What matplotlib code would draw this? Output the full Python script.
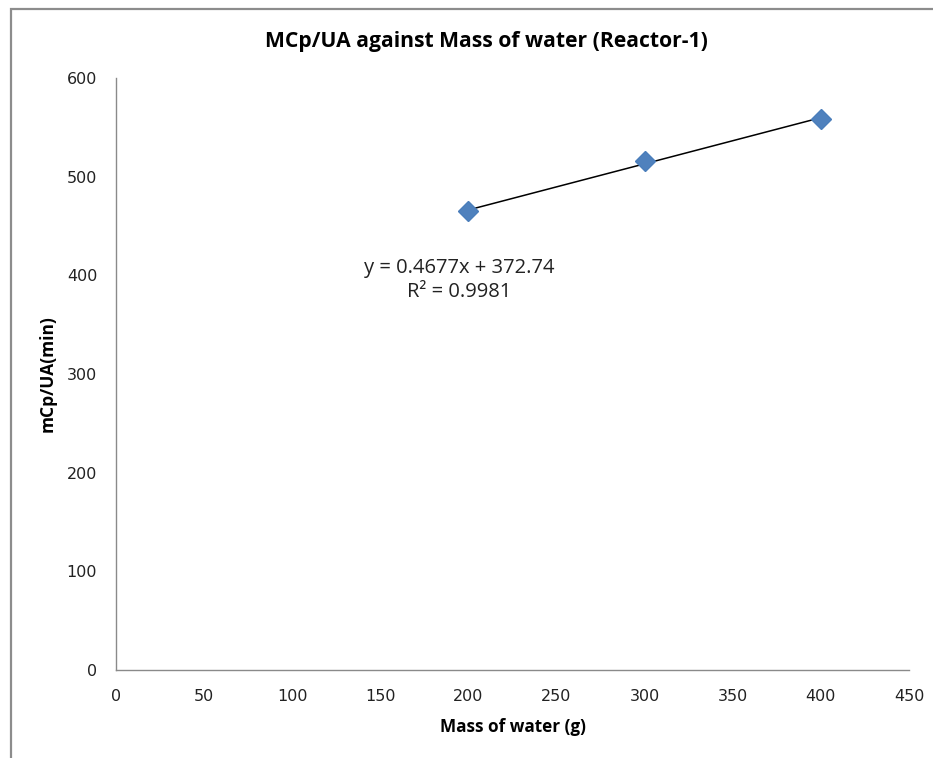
import matplotlib.pyplot as plt
import matplotlib.patches as mpatches
import numpy as np

# measurements
mass_water = [200, 300, 400]
mcp_ua = [465.1, 515.4, 558.6]

# linear trendline
slope = 0.4677
intercept = 372.74
r_squared = 0.9981

x_ticks = [0, 50, 100, 150, 200, 250, 300, 350, 400, 450]
y_ticks = [0, 100, 200, 300, 400, 500, 600]

W, H = 933, 758
fig = plt.figure(figsize=(W / 100, H / 100), dpi=100)
ax = fig.add_axes([116 / W, 1 - 670 / H, (909 - 116) / W, (670 - 78) / H])

# chart frame
fig.add_artist(mpatches.Rectangle((11 / W, -0.1), 1.2, 1 - 9 / H + 0.1,
                                  transform=fig.transFigure, fill=False,
                                  edgecolor='#8c8c8c', linewidth=1.6))

xs = np.array([min(mass_water), max(mass_water)])
ax.plot(xs, slope * xs + intercept, color='black', linewidth=1.1, zorder=2)
ax.plot(mass_water, mcp_ua, linestyle='none', marker='D', markersize=10.5,
        color='#4f81bd', markeredgecolor='#4a7ebb', zorder=3)

ax.set_xlim(0, 450)
ax.set_ylim(0, 600)
ax.set_xticks(x_ticks)
ax.set_yticks(y_ticks)
ax.tick_params(length=0, labelsize=11.5, colors='#222222')
ax.tick_params(axis='x', pad=14)
ax.tick_params(axis='y', pad=13.5)

for s in ['top', 'right']:
    ax.spines[s].set_visible(False)
for s in ['left', 'bottom']:
    ax.spines[s].set_color('#8a8a8a')
    ax.spines[s].set_linewidth(1.0)

ax.text(194.6, 407, 'y = %.4fx + %.2f' % (slope, intercept), ha='center', va='center',
        fontsize=14.5, family='Open Sans', color='#222222')
ax.text(194.6, 383, 'R² = %.4f' % r_squared, ha='center', va='center',
        fontsize=14.5, family='Open Sans', color='#222222')

fig.text(486 / W, 1 - 42 / H, 'MCp/UA against Mass of water (Reactor-1)',
         ha='center', va='center', fontsize=15.2, fontweight='bold', family='Open Sans')
fig.text(513 / W, 1 - 727 / H, 'Mass of water (g)', ha='center', va='center',
         fontsize=12.3, fontweight='bold', family='Open Sans')
fig.text(48 / W, 1 - 374 / H, 'mCp/UA(min)', ha='center', va='center', rotation=90,
         fontsize=12.5, fontweight='bold', family='Open Sans')

fig.savefig('out.png', dpi=100)
